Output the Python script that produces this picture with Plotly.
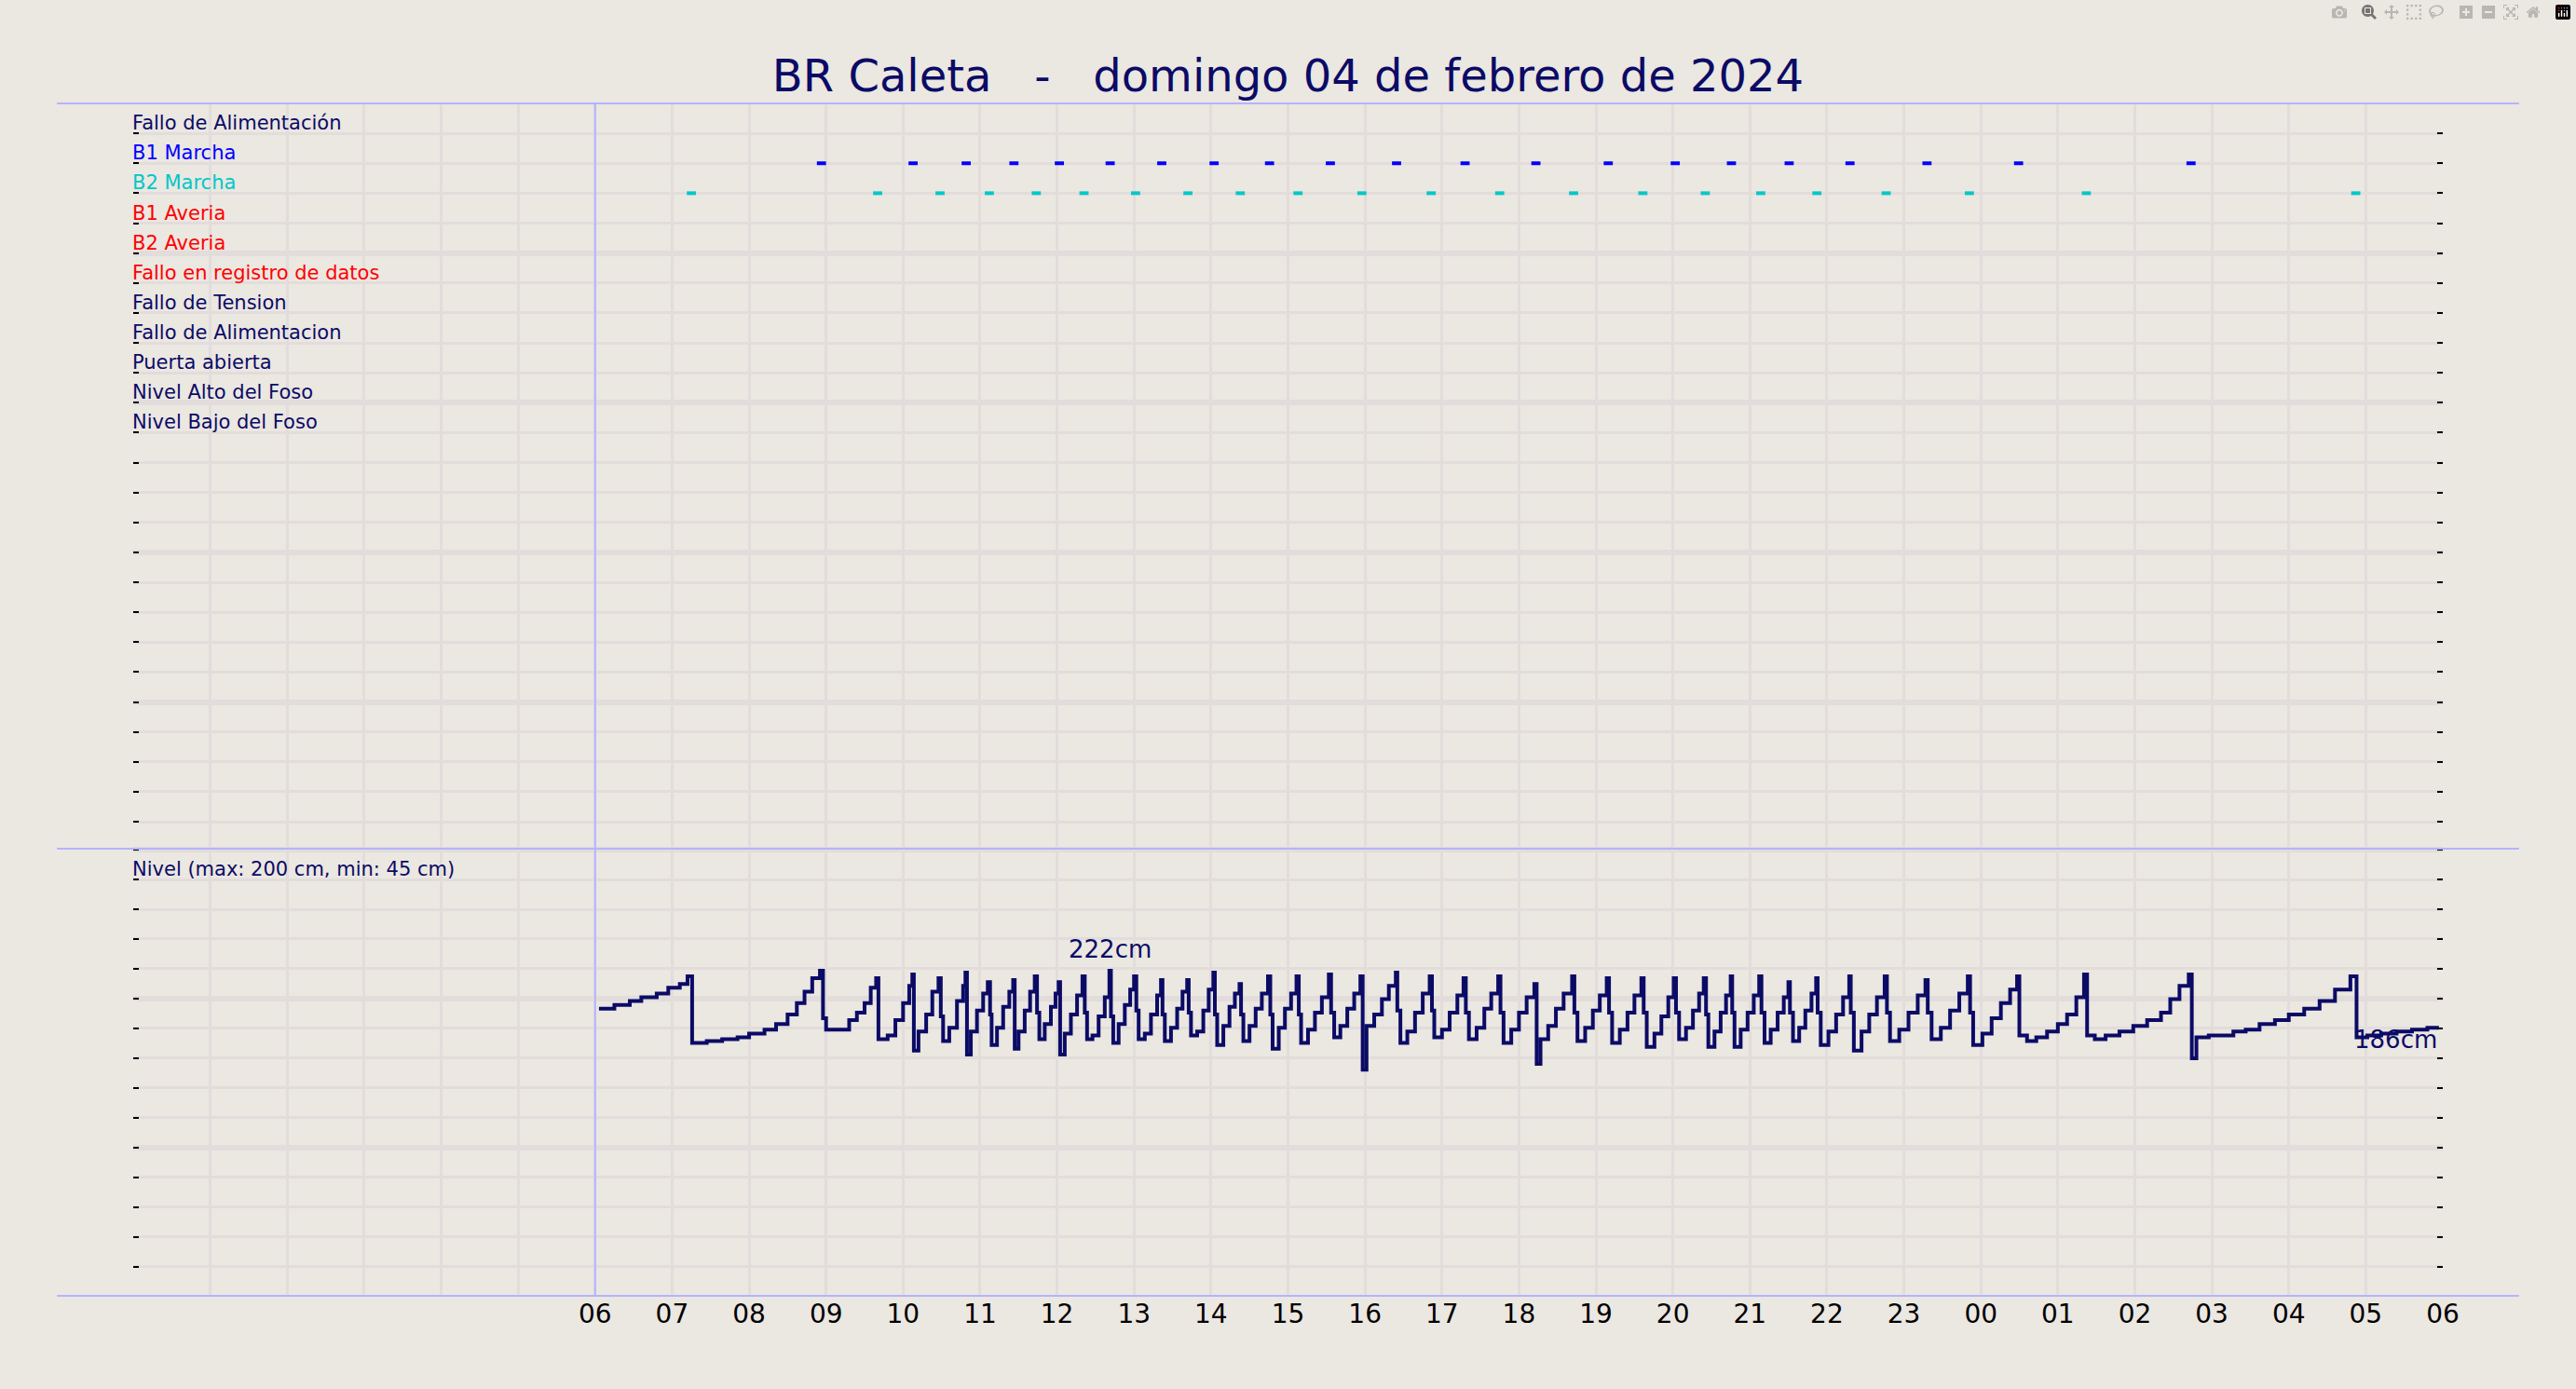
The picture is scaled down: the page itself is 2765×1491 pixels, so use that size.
import plotly.graph_objects as go
from plotly.subplots import make_subplots

TITLE = "BR Caleta   -   domingo 04 de febrero de 2024"
ROW_LABELS = ["Fallo de Alimentación", "B1 Marcha", "B2 Marcha", "B1 Averia", "B2 Averia",
              "Fallo en registro de datos", "Fallo de Tension", "Fallo de Alimentacion",
              "Puerta abierta", "Nivel Alto del Foso", "Nivel Bajo del Foso"]
ROW_COLORS = ["#0b0b66", "#0000ff", "#00c8c8", "#ff0000", "#ff0000", "#ff0000",
              "#0b0b66", "#0b0b66", "#0b0b66", "#0b0b66", "#0b0b66"]
HOUR_TICKS = list(range(0, 31))
HOUR_LABELS = ["", "", "", "", "", "", "06", "07", "08", "09", "10", "11", "12", "13", "14", "15",
               "16", "17", "18", "19", "20", "21", "22", "23", "00", "01", "02", "03", "04", "05", "06"]

# hours since 00:00 of 04/02/2024
B1_HOURS = [8.94, 10.13, 10.82, 11.44, 12.03, 12.69, 13.36, 14.04, 14.76, 15.55, 16.41, 17.30,
            18.22, 19.16, 20.03, 20.76, 21.51, 22.30, 23.30, 24.49, 26.73]
B2_HOURS = [7.25, 9.67, 10.48, 11.12, 11.73, 12.35, 13.02, 13.70, 14.38, 15.13, 15.96, 16.86,
            17.75, 18.71, 19.61, 20.42, 21.14, 21.87, 22.77, 23.85, 25.37, 28.87]

LEVEL_POINTS = [
    (6.05, 202), (6.25, 204), (6.45, 206), (6.6, 208), (6.8, 210), (6.95, 213), (7.1, 215), (7.2, 219),
    (7.26, 184), (7.45, 185), (7.65, 186), (7.85, 187), (8.0, 189), (8.2, 191), (8.35, 194), (8.5, 199),
    (8.62, 205), (8.72, 211), (8.82, 218), (8.92, 222),
    (8.96, 197), (9.0, 191), (9.2, 191), (9.3, 196), (9.4, 200), (9.5, 205), (9.58, 213), (9.65, 218),
    (9.68, 186), (9.8, 188), (9.9, 196), (10.0, 205), (10.08, 214), (10.12, 220),
    (10.14, 180), (10.2, 190), (10.3, 199), (10.38, 211), (10.46, 218),
    (10.49, 198), (10.52, 185), (10.6, 192), (10.7, 206), (10.78, 214), (10.81, 221),
    (10.83, 178), (10.88, 190), (10.96, 201), (11.04, 210), (11.1, 216),
    (11.13, 199), (11.15, 183), (11.22, 192), (11.3, 203), (11.38, 211), (11.43, 217),
    (11.45, 181), (11.5, 190), (11.58, 201), (11.65, 211), (11.71, 219),
    (11.74, 200), (11.77, 186), (11.84, 194), (11.92, 203), (11.98, 210), (12.02, 216),
    (12.04, 178), (12.1, 189), (12.18, 199), (12.26, 209), (12.33, 219),
    (12.36, 200), (12.39, 186), (12.46, 188), (12.54, 198), (12.62, 208), (12.68, 222),
    (12.7, 198), (12.73, 184), (12.8, 194), (12.88, 204), (12.95, 212), (13.0, 219),
    (13.03, 201), (13.06, 186), (13.14, 189), (13.22, 199), (13.3, 209), (13.35, 217),
    (13.37, 199), (13.4, 185), (13.48, 192), (13.56, 202), (13.63, 211), (13.69, 217),
    (13.71, 200), (13.74, 188), (13.82, 190), (13.9, 201), (13.97, 212), (14.03, 221),
    (14.05, 199), (14.08, 183), (14.16, 193), (14.24, 203), (14.31, 210), (14.37, 215),
    (14.39, 199), (14.42, 185), (14.5, 193), (14.58, 202), (14.66, 210), (14.74, 219),
    (14.77, 199), (14.8, 181), (14.88, 192), (14.96, 202), (15.04, 210), (15.11, 219),
    (15.14, 199), (15.17, 184), (15.26, 191), (15.35, 200), (15.44, 208), (15.53, 220),
    (15.56, 200), (15.6, 187), (15.68, 193), (15.77, 202), (15.86, 210), (15.94, 219),
    (15.97, 170), (16.02, 193), (16.12, 199), (16.22, 207), (16.31, 214), (16.4, 221),
    (16.42, 201), (16.46, 184), (16.55, 190), (16.65, 200), (16.75, 210), (16.84, 219),
    (16.87, 201), (16.9, 187), (17.0, 191), (17.1, 200), (17.2, 209), (17.28, 218),
    (17.31, 200), (17.35, 186), (17.45, 192), (17.55, 202), (17.64, 210), (17.73, 219),
    (17.76, 200), (17.8, 184), (17.9, 191), (18.0, 200), (18.1, 208), (18.2, 215),
    (18.23, 173), (18.28, 186), (18.38, 193), (18.48, 202), (18.58, 210), (18.69, 219),
    (18.72, 200), (18.76, 185), (18.86, 192), (18.96, 201), (19.05, 209), (19.14, 218),
    (19.17, 200), (19.21, 184), (19.31, 191), (19.41, 200), (19.5, 209), (19.59, 218),
    (19.62, 200), (19.66, 182), (19.76, 189), (19.85, 198), (19.94, 208), (20.01, 218),
    (20.04, 200), (20.08, 186), (20.17, 192), (20.26, 201), (20.34, 210), (20.4, 218),
    (20.43, 199), (20.46, 182), (20.54, 190), (20.62, 200), (20.69, 209), (20.75, 219),
    (20.77, 200), (20.8, 182), (20.88, 191), (20.97, 200), (21.05, 209), (21.12, 219),
    (21.15, 200), (21.19, 184), (21.27, 191), (21.36, 200), (21.44, 208), (21.5, 216),
    (21.52, 200), (21.56, 185), (21.64, 192), (21.72, 201), (21.8, 210), (21.86, 218),
    (21.88, 200), (21.92, 183), (22.02, 190), (22.12, 199), (22.21, 208), (22.29, 219),
    (22.31, 200), (22.35, 180), (22.45, 190), (22.55, 199), (22.65, 208), (22.75, 219),
    (22.78, 200), (22.82, 185), (22.94, 191), (23.06, 200), (23.18, 209), (23.28, 217),
    (23.31, 200), (23.36, 186), (23.48, 192), (23.6, 201), (23.72, 210), (23.83, 219),
    (23.86, 200), (23.9, 183), (24.02, 189), (24.14, 197), (24.26, 205), (24.38, 212), (24.47, 219),
    (24.5, 188), (24.6, 185), (24.72, 187), (24.86, 190), (25.0, 194), (25.12, 199), (25.24, 208),
    (25.34, 220),
    (25.38, 188), (25.48, 186), (25.62, 188), (25.8, 190), (25.98, 193), (26.16, 196), (26.34, 200),
    (26.46, 207), (26.58, 214), (26.7, 220),
    (26.74, 176), (26.8, 187), (26.96, 188), (27.14, 188), (27.28, 190), (27.44, 191), (27.62, 194),
    (27.82, 196), (28.0, 199), (28.2, 202), (28.4, 206), (28.6, 212), (28.8, 219),
    (28.88, 187), (29.02, 188), (29.2, 189), (29.4, 190), (29.6, 191), (29.8, 192), (29.95, 192),
]
LEVEL_LABELS = [(12.69, 222, "222cm"), (28.83, 186, "186cm")]
NIVEL_TEXT = "Nivel (max: 200 cm, min: 45 cm)"

NAVY = "#0b0b66"
BG = "#ebe7e1"
GRID = "#e2dddb"
FONT = "DejaVu Sans"

fig = make_subplots(rows=2, cols=1, shared_xaxes=True, vertical_spacing=0,
                    row_heights=[0.625, 0.375])

fig.add_trace(go.Scatter(x=B1_HOURS, y=[1] * len(B1_HOURS), mode="markers",
                         marker=dict(symbol="line-ew", size=7, line=dict(width=4, color="#0000ff")),
                         hoverinfo="x"), row=1, col=1)
fig.add_trace(go.Scatter(x=B2_HOURS, y=[2] * len(B2_HOURS), mode="markers",
                         marker=dict(symbol="line-ew", size=7, line=dict(width=4, color="#00c8c8")),
                         hoverinfo="x"), row=1, col=1)

lx = [p[0] for p in LEVEL_POINTS]
ly = [p[1] for p in LEVEL_POINTS]
fig.add_trace(go.Scatter(x=lx, y=ly, mode="lines", line=dict(color=NAVY, width=4, shape="hv")),
              row=2, col=1)

for i, (lab, col) in enumerate(zip(ROW_LABELS, ROW_COLORS)):
    fig.add_annotation(x=0, y=i, xref="x", yref="y", text=lab, showarrow=False,
                       xanchor="left", yanchor="bottom", yshift=-3, xshift=-3,
                       font=dict(family=FONT, size=21, color=col))
fig.add_annotation(x=0, y=1, xref="x", yref="y2 domain", text=NIVEL_TEXT, showarrow=False,
                   xanchor="left", yanchor="top", yshift=-8, xshift=-3,
                   font=dict(family=FONT, size=21, color=NAVY))
fig.add_annotation(x=LEVEL_LABELS[0][0], y=LEVEL_LABELS[0][1], xref="x2", yref="y2",
                   text=LEVEL_LABELS[0][2], showarrow=False, xanchor="center", yanchor="bottom",
                   yshift=6, font=dict(family=FONT, size=26, color=NAVY))
fig.add_annotation(x=LEVEL_LABELS[1][0], y=LEVEL_LABELS[1][1], xref="x2", yref="y2",
                   text=LEVEL_LABELS[1][2], showarrow=False, xanchor="left", yanchor="middle",
                   font=dict(family=FONT, size=26, color=NAVY))

xgrid = dict(range=[0, 30], tickvals=HOUR_TICKS, ticktext=HOUR_LABELS, showgrid=True,
             gridcolor=GRID, gridwidth=3, zeroline=False, showline=False, ticks="",
             tickfont=dict(family=FONT, size=28, color="black"))
fig.update_xaxes(**xgrid)
fig.update_xaxes(showticklabels=False, row=1, col=1)

ycommon = dict(showticklabels=False, zeroline=False, showline=False,
               ticks="inside", ticklen=6, tickwidth=2, tickcolor="black", mirror="ticks",
               showgrid=True, gridcolor=GRID, gridwidth=6,
               minor=dict(showgrid=True, gridcolor=GRID, gridwidth=3, ticks="inside",
                          ticklen=6, tickwidth=2, tickcolor="black"))
fig.update_yaxes(**ycommon)
fig.update_yaxes(range=[23.9, -1.0], tick0=4, dtick=5, minor=dict(tick0=0, dtick=1), row=1, col=1)
fig.update_yaxes(range=[51.3, 286], tick0=207.3, dtick=78.2, minor=dict(tick0=207.3, dtick=15.64),
                 row=2, col=1)

LB = "#b4b4ff"
shapes = [
    dict(type="line", xref="x", yref="paper", x0=6, x1=6, y0=0, y1=1, line=dict(color=LB, width=2)),
]
for yy in [0, 0.375, 1]:
    shapes.append(dict(type="line", xref="paper", yref="paper", x0=-0.033, x1=1.033, y0=yy, y1=yy,
                       line=dict(color=LB, width=2)))
fig.update_layout(shapes=shapes)

fig.update_layout(
    width=2765, height=1491, showlegend=False,
    paper_bgcolor=BG, plot_bgcolor=BG,
    margin=dict(l=143, r=143, t=111, b=100),
    title=dict(text=TITLE, x=0.5, xanchor="center", y=1 - 81 / 1491, yanchor="middle",
               font=dict(family=FONT, size=48, color=NAVY)),
)
fig.write_html("out.html",
               post_script="document.body.style.margin='0';document.body.style.background='%s';" % BG)
